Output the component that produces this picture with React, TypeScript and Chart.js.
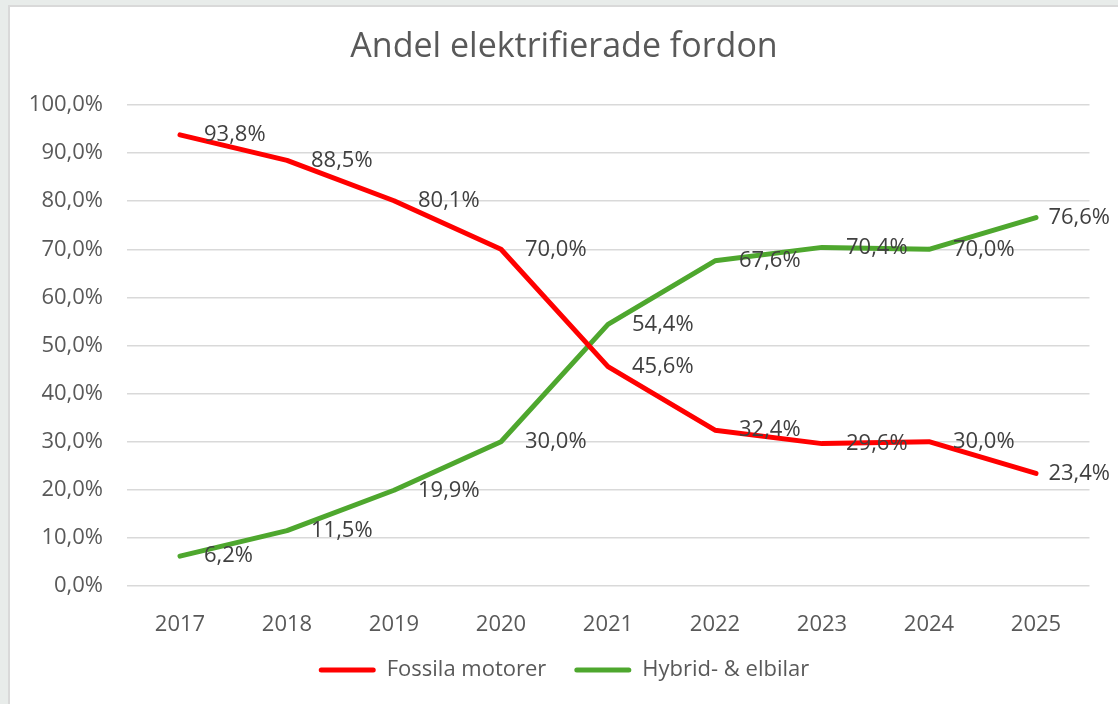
import React, { useEffect, useRef } from "react";
import { Chart, registerables } from "chart.js";

Chart.register(...registerables);

const years = ["2017", "2018", "2019", "2020", "2021", "2022", "2023", "2024", "2025"];
const fossila = [93.8, 88.5, 80.1, 70.0, 45.6, 32.4, 29.6, 30.0, 23.4];
const hybrid = [6.2, 11.5, 19.9, 30.0, 54.4, 67.6, 70.4, 70.0, 76.6];
const seriesNames = ["Fossila motorer", "Hybrid- & elbilar"];
const title = "Andel elektrifierade fordon";

const FONT = "'Open Sans', sans-serif";
const TEXT = "#595959";
const LABEL = "#404040";
const RED = "#ff0000";
const GREEN = "#4ea72e";

const fmt = (v: number) => v.toFixed(1).replace(".", ",") + "%";

const valueLabels = {
  id: "valueLabels",
  afterDatasetsDraw(chart: any) {
    const ctx = chart.ctx;
    ctx.save();
    ctx.font = `22px ${FONT}`;
    ctx.fillStyle = LABEL;
    ctx.textBaseline = "middle";
    ctx.textAlign = "left";
    chart.data.datasets.forEach((ds: any, di: number) => {
      const meta = chart.getDatasetMeta(di);
      meta.data.forEach((pt: any, i: number) => {
        const text = fmt(ds.data[i]);
        const w = ctx.measureText(text).width;
        const x = Math.min(pt.x + 24, chart.width - w - 8);
        ctx.fillText(text, x, pt.y);
      });
    });
    ctx.restore();
  },
};

export default function App() {
  const ref = useRef<HTMLCanvasElement | null>(null);

  useEffect(() => {
    document.body.style.margin = "0";
    document.body.style.background = "#e8ecea";
    if (!ref.current) return;
    const chart = new Chart(ref.current, {
      type: "line",
      data: {
        labels: years,
        datasets: [
          {
            label: seriesNames[0],
            data: fossila,
            borderColor: RED,
            backgroundColor: RED,
            borderWidth: 5,
            pointRadius: 0,
            tension: 0,
            borderCapStyle: "round",
            borderJoinStyle: "round",
          },
          {
            label: seriesNames[1],
            data: hybrid,
            borderColor: GREEN,
            backgroundColor: GREEN,
            borderWidth: 5,
            pointRadius: 0,
            tension: 0,
            borderCapStyle: "round",
            borderJoinStyle: "round",
          },
        ],
      },
      options: {
        responsive: false,
        animation: false,
        devicePixelRatio: 1,
        layout: { padding: { left: 0, right: 0, top: 0, bottom: 13 } },
        plugins: {
          title: {
            display: true,
            text: title,
            color: TEXT,
            font: { family: FONT, size: 34, weight: "normal" },
            padding: { top: 19.6, bottom: 37.6 },
          },
          legend: {
            position: "bottom",
            labels: {
              boxWidth: 57,
              boxHeight: 5,
              padding: 28,
              useBorderRadius: true,
              borderRadius: 2.5,
              color: TEXT,
              font: { family: FONT, size: 22 },
              generateLabels: (c: any) =>
                c.data.datasets.map((ds: any, i: number) => ({
                  text: ds.label,
                  fillStyle: ds.borderColor,
                  strokeStyle: ds.borderColor,
                  lineWidth: 0,
                  borderRadius: 2.5,
                  fontColor: TEXT,
                  hidden: false,
                  datasetIndex: i,
                })),
            },
          },
          tooltip: { enabled: false },
        },
        scales: {
          x: {
            type: "category",
            offset: true,
            grid: { display: false },
            border: { display: false },
            ticks: { color: TEXT, font: { family: FONT, size: 22 }, padding: 17.8, maxRotation: 0 },
            afterFit: (s: any) => {
              s.height = 45;
            },
          },
          y: {
            type: "linear",
            min: 0,
            max: 100,
            grid: { color: "#d9d9d9", lineWidth: 1.5, drawTicks: false },
            border: { display: false },
            ticks: {
              stepSize: 10,
              color: TEXT,
              font: { family: FONT, size: 22 },
              padding: 23.5,
              callback: (v: any) => fmt(Number(v)),
            },
            afterFit: (s: any) => {
              s.width = 116.5;
            },
          },
          yRight: {
            type: "linear",
            position: "right",
            display: true,
            grid: { display: false },
            border: { display: false },
            ticks: { display: false },
            afterFit: (s: any) => {
              s.width = 28.5;
            },
          },
        },
      },
      plugins: [valueLabels],
    } as any);
    return () => chart.destroy();
  }, []);

  return (
    <div
      style={{
        position: "absolute",
        left: 8,
        top: 5,
        width: 1110,
        height: 699,
        boxSizing: "border-box",
        borderLeft: "2px solid #d9d9d9",
        borderTop: "2px solid #d9d9d9",
        background: "#ffffff",
        overflow: "hidden",
      }}
    >
      <canvas ref={ref} width={1108} height={697} style={{ display: "block", width: 1108, height: 697 }} />
    </div>
  );
}
